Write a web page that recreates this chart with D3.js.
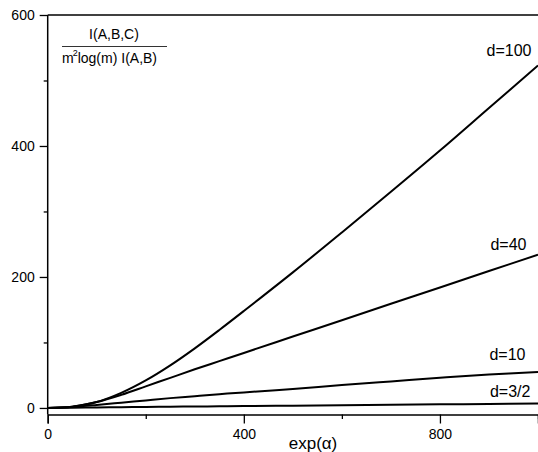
<html lang="en">
<head>
	<meta charset="utf-8">
	<script src="https://d3js.org/d3.v7.min.js" charset="utf-8"></script>
	<style>
		body { margin: 0; background: #fff; }
		text { font-family: Arial, "Liberation Sans", sans-serif; fill: #000; }
	</style>
</head>
<body>
	<script>
	// values
	var expAlpha = [0, 50, 100, 150, 200, 250, 300, 350, 400, 500, 600, 700, 800, 900, 1000];
	var d100 = [0, 2, 9, 23, 42, 65, 91, 119, 148, 207, 268, 330, 393, 458, 523];
	var d40 = [0, 2, 9, 20, 33, 46, 59, 71.5, 84, 109, 134, 159, 184, 209, 234];
	var d10 = [0, 1.5, 4.5, 8, 11.5, 15, 18, 21, 23.7, 29, 35, 40.5, 46, 51, 55];
	var d3_2 = [0, 0.4, 0.8, 1.1, 1.5, 1.9, 2.2, 2.5, 2.8, 3.5, 4.2, 4.8, 5.5, 6.1, 6.7];
	var seriesNames = ["d=100", "d=40", "d=10", "d=3/2"];
	var seriesValues = [d100, d40, d10, d3_2];
	// label anchors in data units (x, y)
	var labelAt = [[895, 537], [903, 241], [901, 73], [902, 16]];

	var xMajor = [0, 400, 800];
	var xMinor = [200, 600, 1000];
	var yMajor = [0, 200, 400, 600];
	var yMinor = [100, 300, 500];

	var w = 538;
	var h = 452;

	var x = d3.scaleLinear().domain([0, 1000]).range([47.7, 538]);
	var y = d3.scaleLinear().domain([-10, 600]).range([414.5, 15]);

	var svg = d3.select("body")
		.append("svg")
		.attr("width", w)
		.attr("height", h);

	// frame: top line
	svg.append("line")
		.attr("x1", x(0)).attr("x2", x(1000))
		.attr("y1", y(600)).attr("y2", y(600))
		.attr("stroke", "#000").attr("stroke-width", 1.5);

	// x axis
	var gx = svg.append("g")
		.attr("transform", "translate(0," + y(-10) + ")")
		.call(d3.axisBottom(x).tickValues(xMajor).tickSize(9).tickPadding(6).tickFormat(d3.format("d")));
	svg.append("g")
		.attr("transform", "translate(0," + y(-10) + ")")
		.call(d3.axisBottom(x).tickValues(xMinor).tickSize(4.5).tickFormat(""))
		.select(".domain").remove();

	// y axis
	var gy = svg.append("g")
		.attr("transform", "translate(" + x(0) + ",0)")
		.call(d3.axisLeft(y).tickValues(yMajor).tickSize(8).tickPadding(5).tickFormat(d3.format("d")));
	svg.append("g")
		.attr("transform", "translate(" + x(0) + ",0)")
		.call(d3.axisLeft(y).tickValues(yMinor).tickSize(4).tickFormat(""))
		.select(".domain").remove();

	svg.selectAll(".domain").attr("stroke", "#000").attr("stroke-width", 1.5);
	svg.selectAll(".tick line").attr("stroke", "#000").attr("stroke-width", 1.3);
	svg.selectAll(".tick text").attr("font-size", 14).attr("font-family", "Arial, 'Liberation Sans', sans-serif").attr("fill", "#000");
	gy.selectAll(".domain").attr("d", "M0," + y(600) + "V" + y(-10));

	// curves
	var line = d3.line()
		.x(function(d, i) { return x(expAlpha[i]); })
		.y(function(d) { return y(d); })
		.curve(d3.curveCatmullRom.alpha(0.5));

	svg.selectAll("path.curve")
		.data(seriesValues)
		.enter()
		.append("path")
		.attr("class", "curve")
		.attr("d", line)
		.attr("fill", "none")
		.attr("stroke", "#000")
		.attr("stroke-width", 2);

	svg.selectAll("text.lab")
		.data(seriesNames)
		.enter()
		.append("text")
		.attr("class", "lab")
		.attr("x", function(d, i) { return x(labelAt[i][0]); })
		.attr("y", function(d, i) { return y(labelAt[i][1]); })
		.attr("font-size", 16)
		.text(function(d) { return d; });

	// axis title
	svg.append("text")
		.attr("x", 313)
		.attr("y", 449)
		.attr("text-anchor", "middle")
		.attr("font-size", 17)
		.text("exp(α)");

	// y title as a fraction
	var frac = svg.append("g");
	frac.append("text")
		.attr("x", 114)
		.attr("y", 39)
		.attr("text-anchor", "middle")
		.attr("font-size", 14)
		.text("I(A,B,C)");
	frac.append("line")
		.attr("x1", 62).attr("x2", 167)
		.attr("y1", 46.5).attr("y2", 46.5)
		.attr("stroke", "#333").attr("stroke-width", 1);
	var den = frac.append("text")
		.attr("x", 62)
		.attr("y", 63)
		.attr("font-size", 14);
	den.append("tspan").text("m");
	den.append("tspan").attr("font-size", 9).attr("dy", -7).attr("dx", -1).text("2");
	den.append("tspan").attr("dy", 7).text("log(m) I(A,B)");
	</script>
</body>
</html>
